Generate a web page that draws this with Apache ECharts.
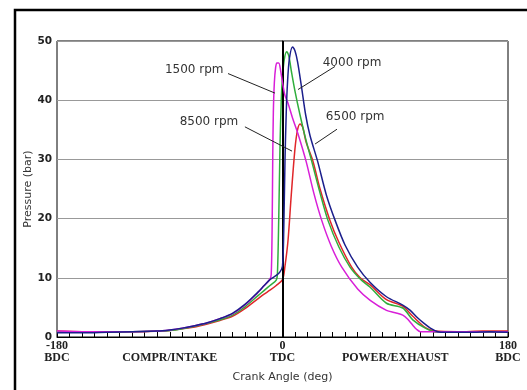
<!DOCTYPE html>
<html><head><meta charset="utf-8">
<script src="https://cdn.jsdelivr.net/npm/echarts@6/dist/echarts.min.js"></script>
<style>html,body{margin:0;padding:0;background:#fff}#c{width:527px;height:390px}</style>
</head><body><div id="c"></div>
<script>
// ---- data ----
const angles1500 = [-180,-160,-140,-120,-100,-90,-80,-70,-60,-50,-40,-30,-20,-15,-10,-9,-8.3,-7.8,-7.3,-6.5,-5.5,-4.5,-3,-1.5,0,2,4.4,8,12.4,18.8,25,31.3,39,47.3,60,70,83,90,96,100,104,107,110,120,140,160,180];
const pressure1500 = [1.0,0.9,0.9,0.9,1.0,1.2,1.5,1.9,2.4,3.1,3.9,5.4,7.4,8.6,9.8,10.6,18,30,38,43,45.5,46.3,46.3,45,43,40.8,39.5,37,34.3,29.7,24.3,19.7,15.3,11.8,8.1,6.2,4.5,4.1,3.7,3.0,2.0,1.3,0.9,0.9,0.9,0.9,0.9];

const angles4000 = [-180,-160,-140,-120,-100,-90,-80,-70,-60,-50,-40,-30,-20,-15,-10,-5,-4,-3,-2,-1,0,1.5,3.3,5,7,10,14,18,23.3,30,36.3,45,53.9,62,70,83,96,104,114,123,140,160,180];
const pressure4000 = [0.9,0.8,0.8,0.9,1.0,1.1,1.4,1.8,2.3,2.9,3.7,5.1,6.9,7.8,8.7,9.6,11,20,32,40,44,47,48.2,47.5,45,41.5,37.5,33.9,29.7,24.3,19.7,15.2,11.8,9.8,8.4,5.7,4.9,2.9,1.5,0.8,0.8,0.8,0.8];

const angles6500 = [-180,-160,-140,-120,-100,-90,-80,-70,-60,-50,-40,-30,-20,-15,-10,-5,-2,0,1,2,3,4,5.5,8,10,12,15,18.5,22,28,35,42,50,60,70,83,96,102,108,113,118,124,130,150,165,180];
const pressure6500 = [0.7,0.7,0.8,0.9,1.0,1.2,1.5,1.9,2.4,3.1,4.0,5.5,7.5,8.6,9.7,10.4,11,12,18,30,38,43,47,49,48.3,46.5,42.5,37.5,34,29.7,24,19.7,15.5,11.8,9.2,6.8,5.4,4.5,3.2,2.3,1.5,0.9,0.8,0.8,0.9,0.8];

const angles8500 = [-180,-160,-140,-120,-100,-90,-80,-70,-60,-50,-40,-30,-20,-15,-10,-5,0,2,4.4,7,10,12,14,16,19,24.3,30,37.9,45,55.2,62,70,83,96,104,114,122,140,160,180];
const pressure8500 = [1.0,0.9,0.9,0.9,1.0,1.1,1.4,1.7,2.2,2.8,3.5,4.8,6.4,7.2,7.9,8.7,9.7,12,16.3,24,31.9,35,36,35.5,32.8,29.7,25,19.7,16,11.8,10,8.8,6.3,5.2,3.5,1.6,1.0,0.9,1.0,1.0];

const xTickLabels = {'-180':['-180','BDC'], '-90':['','COMPR/INTAKE'], '0':['0','TDC'], '90':['','POWER/EXHAUST'], '180':['180','BDC']};
const yTicks = [0,10,20,30,40,50];

// annotations: label text, label position [deg, bar], leader start, leader end
const annoNames = ['1500 rpm','8500 rpm','4000 rpm','6500 rpm'];
const annoLabelPos = [[-70.5,45.2],[-58.7,36.4],[55.5,46.3],[58,37.1]];
const annoLeaderFrom = [[-43.5,44.5],[-30,35.5],[41.9,45.7],[43.5,35.1]];
const annoLeaderTo = [[-6,41.2],[7.6,31.4],[12.4,41.8],[26,32.6]];

function zip(a,b){return a.map((v,i)=>[v,b[i]]);}

const chart = echarts.init(document.getElementById('c'), null, {renderer:'canvas'});
const lineStyle = (c)=>({color:c, width:1.5});
const option = {
  animation:false,
  backgroundColor:'#fff',
  grid:{left:57,right:19,top:41,bottom:53,show:true,borderColor:'#000',borderWidth:1,backgroundColor:'transparent'},
  xAxis:{type:'value',min:-180,max:180,interval:10,
    name:'Crank Angle (deg)',nameLocation:'middle',nameGap:35,nameMoveOverlap:false,
    nameTextStyle:{fontFamily:'DejaVu Sans',fontSize:11,color:'#333'},
    axisLine:{show:true,lineStyle:{color:'#000',width:1}},
    axisTick:{show:true,inside:true,length:5,lineStyle:{color:'#000',width:1}},
    splitLine:{show:false},
    axisLabel:{show:true,interval:0,margin:3,showMinLabel:true,showMaxLabel:true,
      formatter:function(v){const t=xTickLabels[String(v)]; if(!t) return ''; return '{n|'+t[0]+'}\n{s|'+t[1]+'}';},
      rich:{n:{fontFamily:'Liberation Serif',fontSize:12,fontWeight:'bold',color:'#222',lineHeight:12},
            s:{fontFamily:'Liberation Serif',fontSize:12,fontWeight:'bold',color:'#222',lineHeight:12}}}
  },
  yAxis:{type:'value',min:0,max:50,interval:10,
    name:'Pressure (bar)',nameLocation:'middle',nameGap:23,nameMoveOverlap:false,
    nameTextStyle:{fontFamily:'DejaVu Sans',fontSize:11,color:'#333'},
    axisLine:{show:true,lineStyle:{color:'#000',width:1}},
    axisTick:{show:false},
    splitLine:{show:true,lineStyle:{color:'#999',width:1.2}},
    axisLabel:{margin:5,fontFamily:'DejaVu Sans',fontSize:10.5,fontWeight:'bold',color:'#222',
      formatter:function(v){return yTicks.indexOf(v)>=0?String(v):'';}}
  },
  series:[
    {name:'8500 rpm',type:'line',data:zip(angles8500,pressure8500),symbol:'none',smooth:0.3,lineStyle:lineStyle('#e0262a'),z:3},
    {name:'4000 rpm',type:'line',data:zip(angles4000,pressure4000),symbol:'none',smooth:0.3,lineStyle:lineStyle('#2fae3c'),z:4},
    {name:'1500 rpm',type:'line',data:zip(angles1500,pressure1500),symbol:'none',smooth:0.3,lineStyle:lineStyle('#d81fd8'),z:5},
    {name:'6500 rpm',type:'line',data:zip(angles6500,pressure6500),symbol:'none',smooth:0.3,lineStyle:lineStyle('#1c1f8c'),z:6,
     markLine:{silent:true,symbol:'none',label:{show:false},lineStyle:{color:'#000',width:2,type:'solid'},data:[{xAxis:0}]}}
  ]
};
chart.setOption(option);

const g = [];
g.push({type:'rect',shape:{x:15,y:10,width:530,height:400},style:{fill:'none',stroke:'#000',lineWidth:2.5},z:100});
annoNames.forEach((nm,i)=>{
  const p = chart.convertToPixel({gridIndex:0}, annoLabelPos[i]);
  const a = chart.convertToPixel({gridIndex:0}, annoLeaderFrom[i]);
  const b = chart.convertToPixel({gridIndex:0}, annoLeaderTo[i]);
  g.push({type:'text',x:p[0],y:p[1],style:{text:nm,fontFamily:'DejaVu Sans',fontSize:12,fill:'#333',align:'center',verticalAlign:'middle'},z:50});
  g.push({type:'line',shape:{x1:a[0],y1:a[1],x2:b[0],y2:b[1]},style:{stroke:'#222',lineWidth:1},z:50});
});
chart.setOption({graphic:g});
</script></body></html>
